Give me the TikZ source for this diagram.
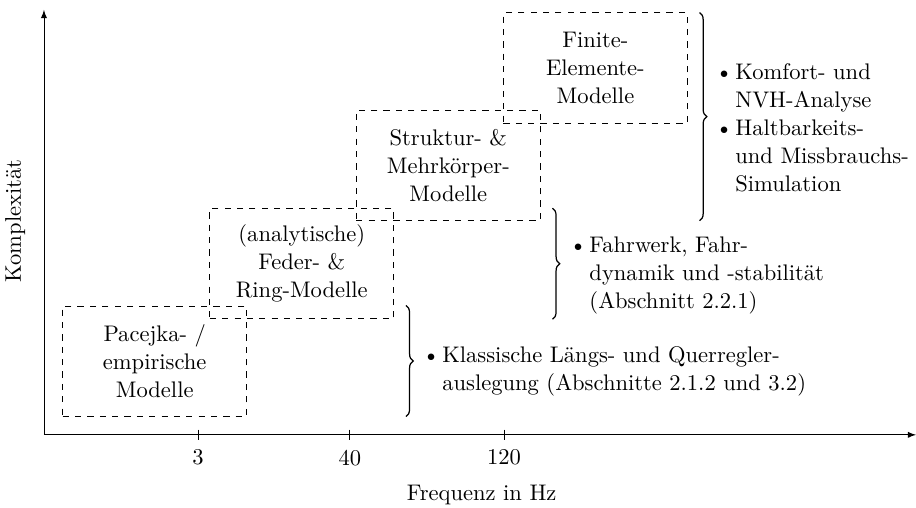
\documentclass[tikz,border=0pt,11pt]{standalone}
\usepackage{amsmath,amssymb}
\usepackage{tikz}
\usetikzlibrary{calc,decorations.pathreplacing}
\tikzset{modell/.style={draw,dashed,align=center,minimum width=3.14cm,minimum height=1.88cm,inner sep=2pt},
  klammer/.style={decorate,decoration={brace,amplitude=3.5pt},semithick},
  liste/.style={anchor=west,inner sep=0pt}}

\begin{document}
\begin{tikzpicture}
\useasboundingbox (-0.75,-1.246) rectangle (14.88,7.42);
\coordinate (O) at (0,0);
\coordinate (xmax) at (14.88,0);
\coordinate (ymax) at (0,7.25);
\draw[-latex] (O) -- (xmax);
\draw[-latex] (O) -- (ymax);
\node[rotate=90] (ylab) at (-0.49,3.65) {Komplexität};
\node (xlab) at (7.47,-1.02) {Frequenz in Hz};
%%%% Ticks
\foreach \x/\f in {2.63/3,5.22/40,7.85/120}{
  \draw (\x,0.09) -- (\x,-0.09);
  \node (tick\f) at (\x,-0.39) {\f};
}
%%%% Modelle
\node[modell] (pacejka) at (1.89,1.26) {Pacejka- /\\empirische\\Modelle};
\node[modell] (feder) at (4.40,2.92) {(analytische)\\Feder- \&\\Ring-Modelle};
\node[modell] (mks) at (6.90,4.60) {Struktur- \&\\Mehrkörper-\\Modelle};
\node[modell] (fem) at (9.41,6.26) {Finite-\\Elemente-\\Modelle};
%
\coordinate (k1o) at ($(pacejka.north -| feder.east)+(0.2,0)$);
\coordinate (k1u) at ($(pacejka.south -| feder.east)+(0.2,0)$);
\coordinate (k2o) at ($(feder.north -| mks.east)+(0.2,0)$);
\coordinate (k2u) at ($(feder.south -| mks.east)+(0.2,0)$);
\coordinate (k3o) at ($(fem.north -| fem.east)+(0.2,0)$);
\coordinate (k3u) at ($(mks.south -| fem.east)+(0.2,0)$);
\draw[klammer] (k1o) -- (k1u);
\draw[klammer] (k2o) -- (k2u);
\draw[klammer] (k3o) -- (k3u);
%%%% Anwendungen
\node[liste] (anw1) at (6.45,1.09) {\begin{tabular}{@{}l@{\hspace{1.2pt}}l@{}}
  \textbullet & Klassische Längs- und Querregler-\\
  & auslegung (Abschnitte 2.1.2 und 3.2)\end{tabular}};
\node[liste] (anw2) at (8.96,2.73) {\begin{tabular}{@{}l@{\hspace{1.2pt}}l@{}}
  \textbullet & Fahrwerk, Fahr-\\
  & dynamik und -stabilität\\
  & (Abschnitt 2.2.1)\end{tabular}};
\node[liste] (anw3) at (11.45,5.20) {\begin{tabular}{@{}l@{\hspace{1.2pt}}l@{}}
  \textbullet & Komfort- und\\
  & NVH-Analyse\\
  \textbullet & Haltbarkeits-\\
  & und Missbrauchs-\\
  & Simulation\end{tabular}};
\end{tikzpicture}
\end{document}
